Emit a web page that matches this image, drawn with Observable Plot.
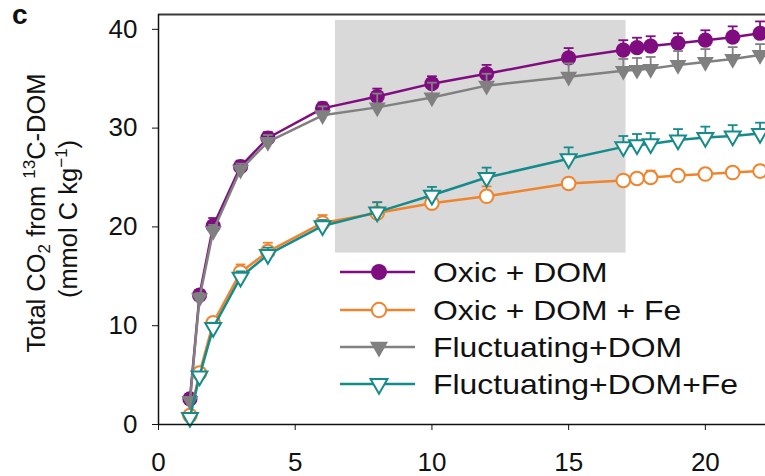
<!DOCTYPE html>
<html>
<head>
<meta charset="utf-8">
<script src="https://cdn.jsdelivr.net/npm/d3@7"></script>
<script src="https://cdn.jsdelivr.net/npm/@observablehq/plot@0.6"></script>
<style>
  body { margin: 0; background: #fff; }
  #chart { width: 765px; height: 476px; font-family: "Liberation Sans", Arial, Helvetica, sans-serif; }
</style>
</head>
<body>
<div id="chart"></div>
<script>
// Incubation time (days)
const days = [1.15, 1.5, 2, 3, 4, 6, 8, 10, 12, 15, 17, 17.5, 18, 19, 20, 21, 22];

// Cumulative CO2 from 13C-DOM (mmol C kg-1), mean and error
const oxicDom       = [2.6, 13.1, 20.1, 26.1, 29.0, 32.0, 33.2, 34.5, 35.5, 37.1, 37.9, 38.15, 38.3, 38.6, 38.9, 39.2, 39.6];
const oxicDomErr    = [0.5, 0.5, 0.8, 0.6, 0.6, 0.6, 0.8, 0.75, 0.9, 1.0, 1.0, 1.0, 1.0, 1.0, 1.0, 1.1, 1.2];
const oxicDomFe     = [0.9, 5.2, 10.3, 15.4, 17.5, 20.4, 21.4, 22.4, 23.1, 24.4, 24.7, 24.9, 25.0, 25.2, 25.35, 25.5, 25.65];
const oxicDomFeErr  = [0.3, 0.4, 0.5, 0.8, 0.9, 0.8, 1.1, 0.5, 1.0, 0.5, 0.4, 0.4, 0.7, 0.4, 0.4, 0.4, 0.4];
const fluctDom      = [2.4, 12.8, 19.6, 25.8, 28.6, 31.3, 32.1, 33.1, 34.3, 35.2, 35.8, 35.9, 36.0, 36.4, 36.7, 37.0, 37.4];
const fluctDomErr   = [0.4, 0.5, 0.6, 0.6, 0.7, 0.9, 1.4, 1.5, 1.2, 1.35, 1.2, 1.2, 1.2, 1.4, 1.3, 1.2, 1.1];
const fluctDomFe    = [0.7, 4.9, 9.8, 14.9, 17.2, 20.1, 21.5, 23.2, 25.0, 26.9, 28.1, 28.3, 28.4, 28.8, 29.05, 29.2, 29.45];
const fluctDomFeErr = [0.3, 0.4, 0.5, 0.6, 0.7, 0.6, 1.0, 0.85, 1.0, 1.15, 1.1, 1.1, 1.1, 1.1, 1.1, 1.1, 1.1];

// Treatments
const seriesNames  = ["Oxic + DOM", "Oxic + DOM + Fe", "Fluctuating+DOM", "Fluctuating+DOM+Fe"];
const seriesColors = ["#800d80", "#f0842c", "#808080", "#168b8b"];
const seriesFilled = [true, false, true, false];
const seriesShapes = ["circle", "circle", "triangleDown", "triangleDown"];
const seriesMeans  = [oxicDom, oxicDomFe, fluctDom, fluctDomFe];
const seriesErrs   = [oxicDomErr, oxicDomFeErr, fluctDomErr, fluctDomFeErr];

// Shaded period (days) and its vertical extent
const shadeDays  = [6.47, 17.1];
const shadeRange = [17.35, 40.9];

// Axis ticks
const xTicks = [0, 5, 10, 15, 20];
const yTicks = [0, 10, 20, 30, 40];
const xDomain = [0, 22.2];
const yDomain = [0, 41.5];

// Downward-pointing triangle symbol
const sqrt3 = Math.sqrt(3);
const triangleDown = {
  draw(context, size) {
    const y = -Math.sqrt(size / (sqrt3 * 3));
    context.moveTo(0, -y * 2);
    context.lineTo(-sqrt3 * y, y);
    context.lineTo(sqrt3 * y, y);
    context.closePath();
  }
};
const symbolOf = (s) => s === "circle" ? d3.symbolCircle : triangleDown;
const radiusOf = (s, filled) => s === "circle" ? (filled ? 7.6 : 6.8) : (filled ? 6.3 : 5.9);

// Tidy rows
const rows = seriesNames.map((name, i) =>
  days.map((t, j) => ({series: name, t, v: seriesMeans[i][j], e: seriesErrs[i][j]}))
);

const capHalf = 0.18; // half width of error-bar caps, in days

const marks = [
  Plot.rect([{x1: shadeDays[0], x2: shadeDays[1], y1: shadeRange[0], y2: shadeRange[1]}],
    {x1: "x1", x2: "x2", y1: "y1", y2: "y2", fill: "#d9d9d9"})
];

// Each treatment: line, upper error bar with cap, then markers
seriesNames.forEach((name, i) => {
  const data = rows[i];
  const color = seriesColors[i];
  const shape = seriesShapes[i];
  const filled = seriesFilled[i];
  marks.push(
    Plot.line(data, {x: "t", y: "v", stroke: color, strokeWidth: 2.5}),
    Plot.link(data, {x1: "t", x2: "t", y1: "v", y2: d => d.v + d.e, stroke: color, strokeWidth: 1.8}),
    Plot.link(data, {x1: d => d.t - capHalf, x2: d => d.t + capHalf, y1: d => d.v + d.e, y2: d => d.v + d.e, stroke: color, strokeWidth: 1.8}),
    Plot.dot(data, {
      x: "t", y: "v",
      symbol: symbolOf(shape),
      r: radiusOf(shape, filled),
      fill: filled ? color : "#fff",
      stroke: color,
      strokeWidth: filled ? 0 : 2,
      fillOpacity: 1
    })
  );
});

marks.push(
  Plot.ruleY([yDomain[1]], {stroke: "#3a3a3a", strokeWidth: 2}),
  Plot.ruleY([0], {stroke: "#111", strokeWidth: 1.5}),
  Plot.ruleX([0], {stroke: "#111", strokeWidth: 1.5})
);

const chart = Plot.plot({
  width: 765,
  height: 476,
  marginLeft: 158,
  marginRight: 0,
  marginTop: 14,
  marginBottom: 52,
  style: {fontFamily: "Liberation Sans, Arial, Helvetica, sans-serif", fontSize: "26px", color: "#111", background: "#fff", overflow: "visible"},
  x: {domain: xDomain, ticks: xTicks, tickSize: 6, tickPadding: 22, label: null},
  y: {domain: yDomain, ticks: yTicks, tickSize: 6, tickPadding: 15, label: null},
  marks
});

document.getElementById("chart").appendChild(chart);

const svg = d3.select(chart);

// Y axis title (two lines, rotated)
const title = svg.append("g")
  .attr("fill", "#111")
  .attr("font-size", 25.5)
  .attr("text-anchor", "middle");

const l1 = title.append("text")
  .attr("transform", "translate(36,213) rotate(-90)")
  .attr("dy", "0.35em");
l1.append("tspan").text("Total CO");
l1.append("tspan").attr("font-size", 17).attr("dy", 5).text("2");
l1.append("tspan").attr("dy", -5).text(" from ");
l1.append("tspan").attr("font-size", 17).attr("dy", -10).text("13");
l1.append("tspan").attr("dy", 10).text("C-DOM");

const l2 = title.append("text")
  .attr("transform", "translate(68,219) rotate(-90)")
  .attr("dy", "0.35em");
l2.append("tspan").text("(mmol C kg");
l2.append("tspan").attr("font-size", 17).attr("dy", -10).text("\u22121");
l2.append("tspan").attr("dy", 10).text(")");

// Panel letter
svg.append("text")
  .attr("x", 12).attr("y", 24)
  .attr("text-anchor", "start")
  .attr("font-size", 28).attr("font-weight", "bold").attr("fill", "#111")
  .text("c");

// Legend
const legendRowY = [272, 310, 347, 384];
const legend = svg.append("g").attr("text-anchor", "start");
seriesNames.forEach((name, i) => {
  const y = legendRowY[i];
  const color = seriesColors[i];
  const shape = seriesShapes[i];
  const filled = seriesFilled[i];
  const r = radiusOf(shape, filled) + 0.4;
  legend.append("line")
    .attr("x1", 340).attr("x2", 415).attr("y1", y).attr("y2", y)
    .attr("stroke", color).attr("stroke-width", 2.5);
  legend.append("path")
    .attr("transform", `translate(379,${y})`)
    .attr("d", d3.symbol(symbolOf(shape), r * r * Math.PI)())
    .attr("fill", filled ? color : "#fff")
    .attr("stroke", filled ? "none" : color)
    .attr("stroke-width", 2);
  legend.append("text")
    .attr("transform", `translate(433,${y}) scale(1.12,1)`)
    .attr("dy", "0.35em")
    .attr("font-size", 28.5).attr("fill", "#111")
    .text(name);
});
</script>
</body>
</html>
